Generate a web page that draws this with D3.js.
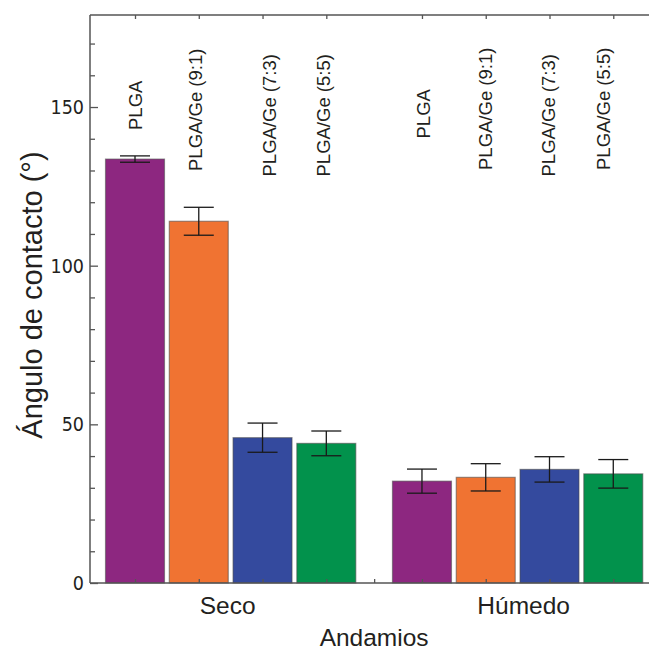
<!DOCTYPE html>
<html>
<head>
<meta charset="utf-8">
<script src="https://cdn.jsdelivr.net/npm/d3@7/dist/d3.min.js"></script>
<style>
  html, body { margin: 0; padding: 0; background: #fff; }
  svg { display: block; }
</style>
</head>
<body>
<svg id="chart" width="649" height="652"></svg>
<script>
// ---- data ----
const groups = ["Seco", "Húmedo"];
const materials = ["PLGA", "PLGA/Ge (9:1)", "PLGA/Ge (7:3)", "PLGA/Ge (5:5)"];
const secoValues = [133.6, 114.0, 45.8, 44.0];
const secoErrors = [1.0, 4.4, 4.6, 3.9];
const humedoValues = [32.1, 33.3, 35.8, 34.4];
const humedoErrors = [3.8, 4.3, 4.0, 4.5];
const yTickLabels = [0, 50, 100, 150];
const yMinorTicks = [10, 20, 30, 40, 60, 70, 80, 90, 110, 120, 130, 140, 160, 170];
const colors = ["#8D2780", "#F07332", "#344A9E", "#02924C"];
const yLabel = "Ángulo de contacto (°)";
const xLabel = "Andamios";

// ---- layout ----
const frame = { left: 90, top: 15, right: 660, bottom: 583 };
const svg = d3.select("#chart");

const y = d3.scaleLinear().domain([0, 179]).range([frame.bottom, frame.top]);
// slot positions: group g, material m -> g*4.5 + m
const x = d3.scaleLinear().domain([-0.7057, 8.2327]).range([frame.left, frame.right]);
const slotW = x(1) - x(0);
const barW = slotW * 0.925;

const rows = [];
groups.forEach((g, gi) => {
  const vals = gi === 0 ? secoValues : humedoValues;
  const errs = gi === 0 ? secoErrors : humedoErrors;
  materials.forEach((m, mi) => {
    rows.push({ group: g, gi, material: m, mi, pos: gi * 4.5 + mi, value: vals[mi], err: errs[mi] });
  });
});

// label layout tweaks (pixel nudges / start offsets)
const labelNudgeX = [0, -3, 7, -3, 1, 0, -1, -10];
const labelStartY = [130, 171, 176.5, 176.5, 138.5, 170, 176.5, 170];
const groupNudgeX = [-3, 6];

// bars
svg.append("g").selectAll("rect").data(rows).join("rect")
  .attr("x", d => x(d.pos) - barW / 2)
  .attr("y", d => y(d.value))
  .attr("width", barW)
  .attr("height", d => y(0) - y(d.value))
  .attr("fill", d => colors[d.mi])
  .attr("stroke", "#4a4a4a")
  .attr("stroke-opacity", 0.55)
  .attr("stroke-width", 1.2);

// error bars
const capW = 30;
const eb = svg.append("g").attr("stroke", "#1a1a1a").attr("stroke-width", 1.3);
rows.forEach(d => {
  const cx = x(d.pos);
  eb.append("line").attr("x1", cx).attr("x2", cx).attr("y1", y(d.value + d.err)).attr("y2", y(d.value - d.err));
  eb.append("line").attr("x1", cx - capW / 2).attr("x2", cx + capW / 2).attr("y1", y(d.value + d.err)).attr("y2", y(d.value + d.err));
  eb.append("line").attr("x1", cx - capW / 2).attr("x2", cx + capW / 2).attr("y1", y(d.value - d.err)).attr("y2", y(d.value - d.err));
});

// frame
const axisColor = "#555";
const fr = svg.append("g").attr("stroke", axisColor).attr("stroke-width", 1.5).attr("fill", "none");
fr.append("line").attr("x1", frame.left).attr("x2", frame.left).attr("y1", frame.top).attr("y2", frame.bottom);
fr.append("line").attr("x1", frame.left).attr("x2", frame.right).attr("y1", frame.top).attr("y2", frame.top);
fr.append("line").attr("x1", frame.left).attr("x2", frame.right).attr("y1", frame.bottom).attr("y2", frame.bottom);
fr.append("line").attr("x1", frame.right).attr("x2", frame.right).attr("y1", frame.top).attr("y2", frame.bottom);

// y axis (ticks inward)
const yAxisMajor = d3.axisRight(y).tickValues(yTickLabels).tickSize(8).tickFormat("");
const yAxisMinor = d3.axisRight(y).tickValues(yMinorTicks).tickSize(5).tickFormat("");
[yAxisMajor, yAxisMinor].forEach(ax => {
  const g = svg.append("g").attr("transform", `translate(${frame.left},0)`).call(ax);
  g.select(".domain").remove();
  g.selectAll("line").attr("stroke", axisColor).attr("stroke-width", 1.3);
});
svg.append("g").selectAll("text").data(yTickLabels).join("text")
  .attr("x", 84).attr("y", d => y(d)).attr("dy", "0.36em")
  .attr("text-anchor", "end")
  .attr("font-family", "'DejaVu Sans Condensed', 'DejaVu Sans', sans-serif")
  .attr("font-size", 19.5)
  .attr("fill", "#231f20")
  .text(d => d);

// x ticks at bar centers (bottom: up, top: down) + group separator
const tickPos = rows.map(d => d.pos).concat([3.75]);
const xb = d3.axisTop(x).tickValues(tickPos).tickSize(4).tickFormat("");
const xt = d3.axisBottom(x).tickValues(rows.map(d => d.pos)).tickSize(4).tickFormat("");
const gb = svg.append("g").attr("transform", `translate(0,${frame.bottom})`).call(xb);
const gt = svg.append("g").attr("transform", `translate(0,${frame.top})`).call(xt);
[gb, gt].forEach(g => {
  g.select(".domain").remove();
  g.selectAll("line").attr("stroke", axisColor).attr("stroke-width", 1.3);
});

// bar labels (rotated)
const capHalf = 6.6;
svg.append("g").selectAll("text").data(rows).join("text")
  .attr("transform", (d, i) => `translate(${x(d.pos) + labelNudgeX[i] + capHalf},${labelStartY[i]}) rotate(-90)`)
  .attr("text-anchor", "start")
  .attr("font-family", "'Liberation Sans', Arial, sans-serif")
  .attr("font-size", 18.5)
  .attr("fill", "#231f20")
  .text(d => d.material);

// group labels
svg.append("g").selectAll("text").data(groups).join("text")
  .attr("x", (g, gi) => x(gi * 4.5 + 1.5) + groupNudgeX[gi])
  .attr("y", 614)
  .attr("text-anchor", "middle")
  .attr("font-family", "'Liberation Sans', Arial, sans-serif")
  .attr("font-size", 24.5)
  .attr("fill", "#231f20")
  .text(g => g);

// axis titles
svg.append("text")
  .attr("x", x(3.75)).attr("y", 646)
  .attr("text-anchor", "middle")
  .attr("font-family", "'Liberation Sans', Arial, sans-serif")
  .attr("font-size", 24.5)
  .attr("fill", "#231f20")
  .text(xLabel);

svg.append("text")
  .attr("transform", `translate(42,295) rotate(-90)`)
  .attr("text-anchor", "middle")
  .attr("font-family", "'Liberation Sans', Arial, sans-serif")
  .attr("font-size", 29)
  .attr("fill", "#231f20")
  .text(yLabel);
</script>
</body>
</html>
